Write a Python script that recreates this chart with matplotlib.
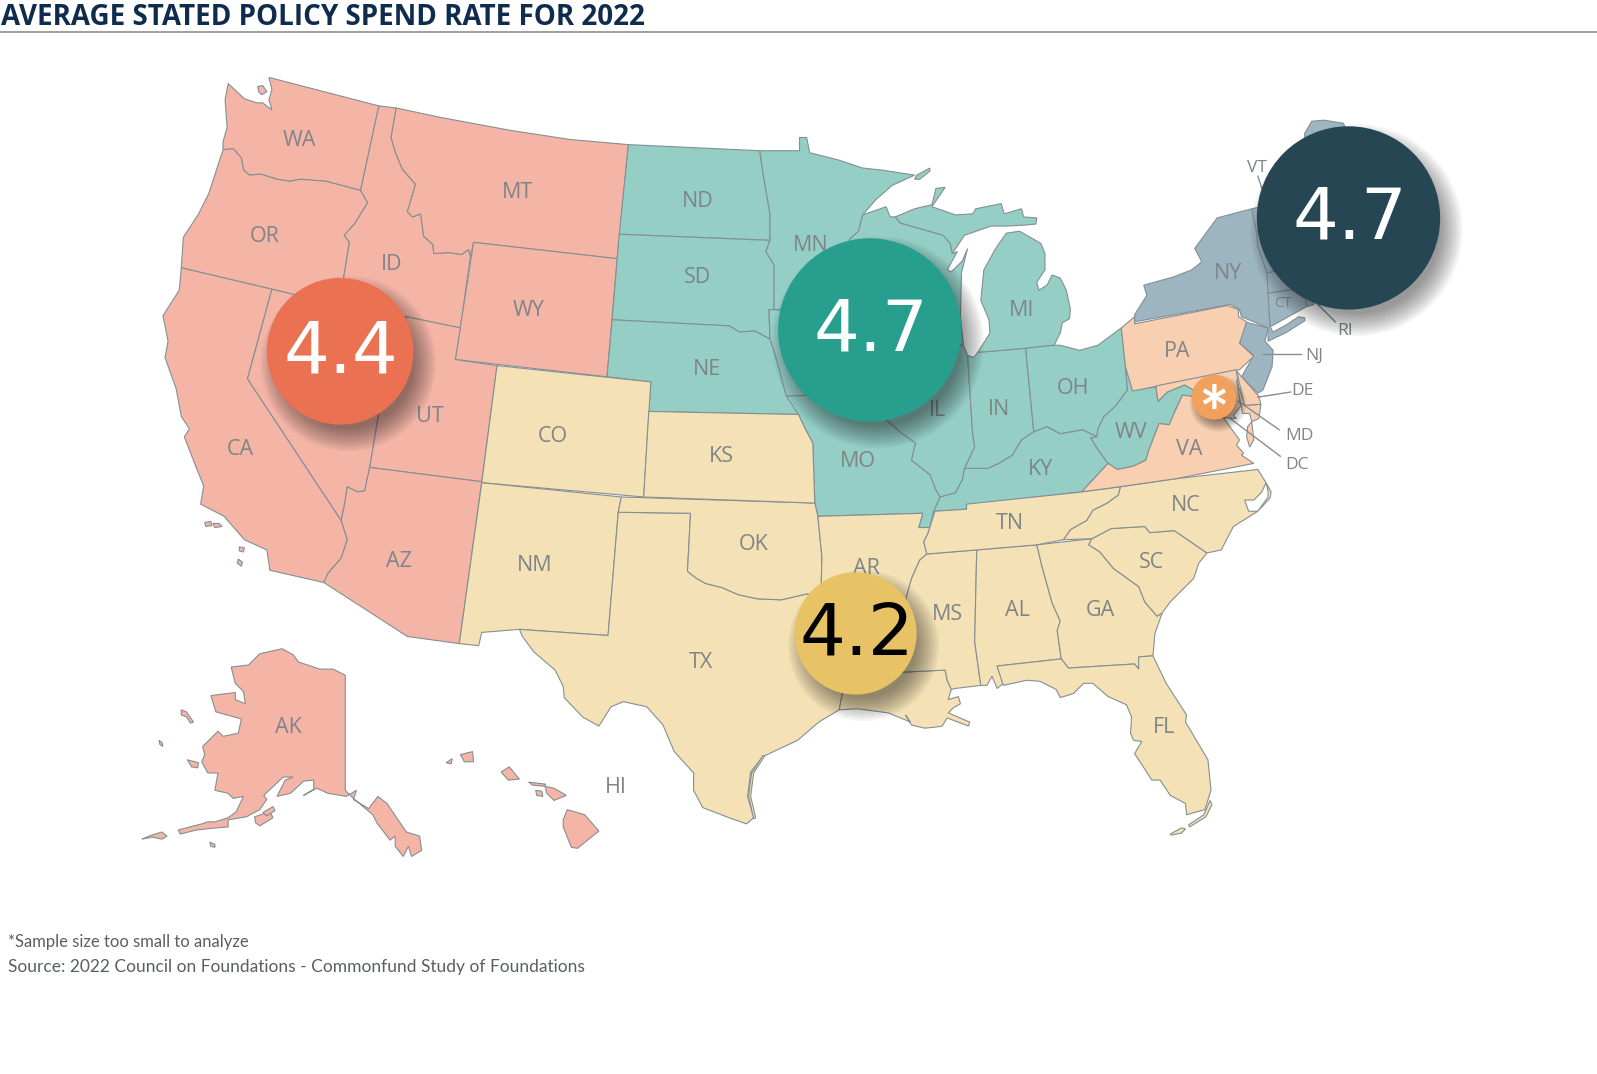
import matplotlib
matplotlib.use('Agg')
import matplotlib.pyplot as plt
from matplotlib.patches import Circle

W, H = 1568, 1054.6

# state outlines
WA = [(264,76),(372,104),(354,187),(320,178),(295,176),(285,178),(272,176),(256,171),(245,172),(239,167),(237,155),(229,146),(219,147),(219,139),(223,125),(221,98),(224,82),(240,97),(252,101),(258,101),(267,108),(264,98),(267,88)]
WA_ISL = [(253,85),(258,84),(262,90),(257,93),(254,90)]
OR = [(219,147),(229,146),(237,155),(239,167),(245,172),(256,171),(272,176),(285,178),(295,176),(320,178),(354,187),(361,199),(348,220),(338,231),(343,238),(333,300),(267,284),(178,263),(180,233),(195,210),(205,190)]
CA = [(178,263),(267,284),(243,372),(335,511),(341,530),(335,548),(322,563),(318,572),(265,560),(262,540),(240,530),(220,507),(197,495),(200,477),(193,460),(181,429),(186,421),(178,409),(173,382),(162,351),(165,335),(160,310),(176,285)]
CA_ISL1 = [(201,513),(207,512),(208,516),(202,517)]
CA_ISL2 = [(209,514),(215,514),(218,517),(211,518)]
CA_ISL3 = [(235,537),(240,538),(239,542),(235,541)]
CA_ISL4 = [(234,549),(238,552),(237,556),(233,553)]
NV = [(267,284),(333,300),(399,311),(372,405),(363,459),(358,482),(351,483),(341,478),(338,497),(335,511),(243,372)]
ID = [(372,104),(389,106),(384,135),(388,149),(395,166),(408,181),(400,208),(405,213),(413,210),(416,232),(425,240),(426,249),(441,248),(453,250),(460,245),(462,251),(452,322),(399,311),(333,300),(343,238),(338,231),(348,220),(361,199),(354,187)]
MT = [(389,106),(431,115),(501,128),(560,137),(617,142),(606,254),(465,238),(462,251),(460,245),(453,250),(441,248),(426,249),(425,240),(416,232),(413,210),(405,213),(400,208),(408,181),(395,166),(388,149),(384,135)]
WY = [(465,238),(606,254),(596,370),(447,353)]
UT = [(399,311),(452,322),(447,353),(488,359),(473,473),(363,459),(372,405)]
AZ = [(363,459),(473,473),(451,632),(400,625),(318,572),(322,563),(335,548),(341,530),(335,511),(338,497),(341,478),(351,483),(358,482)]
CO = [(488,359),(639,375),(632,488),(473,474)]
NM = [(473,474),(610,488),(607,503),(597,624),(510,618),(473,621),(470,634),(451,632)]
TX = [(607,503),(678,504),(675,561),(684,568),(693,573),(709,577),(725,584),(744,588),(767,589),(793,583),(806,588),(826,605),(829,660),(827,681),(824,697),(804,709),(783,727),(749,743),(737,758),(734,782),(740,803),(733,809),(716,803),(690,793),(681,776),(681,759),(662,738),(651,712),(635,694),(612,689),(600,694),(588,713),(572,704),(554,685),(553,674),(545,658),(524,640),(513,625),(510,618),(597,624)]
TX_PADRE = [(751,742),(740,759),(737,782),(742,803),(740,804),(735,782),(738,759),(749,742)]
OK = [(610,488),(800,494),(803,507),(807,547),(806,588),(793,583),(767,589),(744,588),(725,584),(709,577),(693,573),(684,568),(675,561),(678,504),(607,503)]
KS = [(637,404),(784,407),(790,420),(798,435),(800,494),(632,488)]
NE = [(601,314),(716,320),(726,326),(741,325),(756,333),(761,348),(771,379),(784,407),(637,404),(639,375),(596,370)]
SD = [(608,230),(756,236),(752,247),(760,260),(760,304),(755,304),(756,333),(741,325),(726,326),(716,320),(601,314)]
ND = [(617,142),(746,148),(749,169),(756,210),(756,236),(608,230)]
MN = [(746,148),(785,148),(785,135),(792,135),(795,150),(823,157),(847,165),(866,167),(898,172),(876,182),(860,196),(847,211),(843,227),(834,235),(840,260),(855,290),(858,308),(760,304),(760,260),(752,247),(756,236),(756,210),(749,169)]
MI_ROYALE = [(898,176),(900,172),(913,165),(913,168),(903,176)]
IA = [(755,304),(858,308),(875,340),(860,375),(850,386),(772,389),(761,348),(756,333)]
MO = [(772,389),(850,386),(860,395),(870,412),(885,425),(899,435),(895,452),(913,466),(919,481),(923,488),(916,504),(913,518),(902,518),(906,504),(803,507),(800,494),(798,435),(790,420),(784,407)]
WI = [(847,211),(870,203),(874,213),(879,213),(884,219),(926,231),(933,239),(935,249),(940,247),(930,265),(934,267),(945,256),(950,244),(944,268),(943,311),(946,339),(875,340),(858,308),(855,290),(840,260),(834,235),(843,227)]
IL = [(875,340),(946,339),(950,349),(955,426),(957,439),(947,460),(945,471),(938,484),(923,488),(919,481),(913,466),(895,452),(899,435),(885,425),(870,412),(860,395),(860,375)]
IN = [(950,349),(956,351),(960,346),(1007,342),(1015,424),(1003,432),(994,447),(981,455),(970,460),(949,460),(947,460),(957,439),(955,426)]
MI_UP = [(879,213),(898,205),(915,201),(919,185),(928,184),(915,203),(938,211),(955,210),(958,205),(983,200),(986,210),(1003,205),(1005,213),(1018,214),(1017,220),(1007,221),(988,222),(973,222),(947,231),(935,249),(933,239),(926,231),(884,219)]
MI_LP = [(960,346),(972,327),(971,314),(963,295),(966,265),(977,245),(981,239),(988,229),(1001,227),(1022,239),(1026,249),(1026,265),(1018,277),(1020,285),(1028,280),(1033,270),(1041,273),(1047,285),(1051,304),(1050,313),(1043,317),(1041,327),(1035,339),(1007,342)]
OH = [(1007,342),(1035,339),(1041,339),(1060,344),(1078,339),(1101,322),(1105,360),(1107,383),(1095,399),(1084,409),(1078,421),(1077,429),(1063,422),(1041,426),(1028,419),(1015,424)]
KY = [(947,460),(949,460),(970,460),(981,455),(994,447),(1003,432),(1015,424),(1028,419),(1041,426),(1063,422),(1077,429),(1071,430),(1077,440),(1088,455),(1062,483),(1052,484),(949,496),(949,500),(919,502),(916,504),(923,488),(938,484),(945,471)]
WV = [(1105,360),(1112,383),(1135,380),(1137,394),(1146,385),(1163,378),(1172,383),(1176,390),(1161,388),(1154,403),(1148,417),(1138,416),(1128,442),(1125,452),(1112,458),(1097,461),(1088,455),(1077,440),(1071,430),(1077,429),(1078,421),(1084,409),(1095,399),(1107,383)]
VA = [(1062,483),(1088,455),(1097,461),(1112,458),(1125,452),(1128,442),(1138,416),(1148,417),(1154,403),(1161,388),(1176,390),(1201,410),(1217,432),(1214,437),(1221,445),(1219,447),(1231,455),(1155,470),(1099,478)]
VA_ES = [(1229,414),(1231,432),(1227,439),(1224,429),(1225,419)]
PA = [(1101,322),(1114,311),(1114,318),(1205,300),(1216,304),(1216,311),(1224,316),(1217,337),(1231,350),(1217,363),(1112,384),(1105,360)]
NY = [(1114,316),(1114,309),(1126,290),(1123,280),(1152,272),(1170,265),(1180,257),(1173,244),(1195,214),(1229,205),(1234,229),(1235,242),(1244,268),(1245,288),(1247,321),(1250,326),(1263,319),(1275,311),(1281,312),(1281,315),(1262,327),(1245,335),(1245,322),(1219,311),(1217,304),(1208,299)]
NJ = [(1222,316),(1219,330),(1217,337),(1231,349),(1219,370),(1235,386),(1240,383),(1249,360),(1250,344),(1242,335),(1245,322)]
VT = [(1229,205),(1265,197),(1262,230),(1260,265),(1244,268),(1235,242),(1234,229)]
NH = [(1265,197),(1278,190),(1290,240),(1300,255),(1280,262),(1260,265),(1262,230)]
MA = [(1244,268),(1260,265),(1280,262),(1300,258),(1315,275),(1340,270),(1320,290),(1290,280),(1245,288)]
CT = [(1245,288),(1280,283),(1283,301),(1247,321)]
RI = [(1280,283),(1291,281),(1290,299),(1283,301)]
ME = [(1278,190),(1281,131),(1288,119),(1300,118),(1319,121),(1330,150),(1345,170),(1375,190),(1340,215),(1300,255),(1290,240)]
MD = [(1135,379),(1214,363),(1218,399),(1211,408),(1214,411),(1201,410),(1176,390),(1172,383),(1163,378),(1146,385),(1137,394)]
MD_ES = [(1214,373),(1222,398),(1238,397),(1236,411),(1229,414),(1227,406),(1220,406)]
DE = [(1214,364),(1219,370),(1228,380),(1236,389),(1238,397),(1222,398)]
TN = [(918,502),(949,500),(949,495),(1054,484),(1100,478),(1098,486),(1087,494),(1073,501),(1067,511),(1051,520),(1044,530),(1018,535),(959,540),(910,544),(907,532),(911,524)]
NC = [(1100,478),(1155,470),(1235,461),(1243,474),(1239,483),(1231,491),(1222,491),(1226,502),(1235,502),(1211,517),(1199,540),(1185,543),(1153,521),(1129,523),(1124,517),(1091,519),(1072,529),(1044,530),(1051,520),(1067,511),(1073,501),(1087,494),(1098,486)]
NC_BANKS = [(1243,474),(1248,483),(1247,489),(1235,502),(1245,488),(1245,482)]
SC = [(1072,529),(1091,519),(1124,517),(1129,523),(1153,521),(1185,543),(1177,553),(1172,568),(1149,591),(1141,602),(1136,605),(1124,591),(1118,576),(1093,558),(1080,542),(1069,535)]
GA = [(1018,535),(1072,529),(1069,535),(1080,542),(1093,558),(1118,576),(1124,591),(1136,605),(1141,602),(1134,622),(1132,644),(1118,645),(1118,657),(1114,652),(1049,656),(1042,647),(1038,619),(1041,610),(1033,592),(1023,556)]
AL = [(959,540),(1018,535),(1023,556),(1033,592),(1041,610),(1038,619),(1042,647),(979,654),(985,671),(979,676),(974,664),(969,673),(963,673),(957,630)]
MS = [(910,544),(959,540),(957,630),(963,673),(938,676),(934,677),(930,668),(928,658),(886,660),(885,620),(890,586),(895,568),(903,550)]
AR = [(803,507),(906,504),(902,518),(913,518),(911,524),(907,532),(910,544),(903,550),(895,568),(890,586),(885,620),(886,660),(829,660),(826,605),(806,588),(807,547)]
LA = [(829,660),(886,660),(928,658),(930,668),(934,677),(931,687),(941,684),(943,691),(936,695),(931,700),(952,709),(951,713),(930,705),(925,713),(918,714),(908,715),(895,712),(889,702),(894,709),(872,700),(842,696),(824,697),(827,681)]
FL = [(979,654),(1042,647),(1049,656),(1114,652),(1118,657),(1118,645),(1132,644),(1145,671),(1165,702),(1164,709),(1186,746),(1189,776),(1183,795),(1165,800),(1164,789),(1149,781),(1139,766),(1131,766),(1114,740),(1121,728),(1113,727),(1110,720),(1111,704),(1106,692),(1088,684),(1073,671),(1064,671),(1054,681),(1041,685),(1037,677),(1021,669),(1008,668),(985,673)]
FL_KEY1 = [(1188,786),(1190,790),(1184,802),(1168,812),(1167,810),(1182,800)]
FL_KEY2 = [(1149,819),(1160,813),(1164,814),(1160,818),(1150,820)]
AK = [(339,663),(327,657),(314,657),(293,650),(288,643),(277,637),(255,642),(244,653),(227,655),(231,671),(239,679),(241,691),(231,687),(231,680),(207,683),(212,699),(237,706),(234,720),(219,723),(214,718),(199,733),(201,741),(198,748),(204,759),(214,759),(211,776),(224,779),(229,784),(239,782),(232,797),(224,803),(211,807),(204,807),(198,809),(175,815),(177,819),(193,815),(211,813),(224,812),(224,805),(242,802),(255,795),(262,785),(259,781),(278,763),(288,763),(280,766),(272,782),(285,779),(294,771),(298,767),(308,766),(308,775),(298,781),(311,774),(322,779),(340,782),(350,776),(347,785),(362,794),(371,782),(380,789),(399,817),(412,821),(414,835),(404,841),(401,831),(396,841),(388,831),(388,821),(383,825),(370,808),(366,800),(347,784),(339,776)]
AK_STL = [(178,697),(183,699),(190,709),(187,710),(183,704),(178,702)]
AK_NUN = [(184,746),(195,749),(194,754),(188,753)]
AK_KOD = [(250,802),(265,797),(268,803),(255,811),(251,808)]
AK_AFG = [(258,798),(268,792),(270,796),(262,801)]
AK_ALE = [(139,824),(149,820),(159,817),(164,821),(159,824),(150,822)]
AK_SM1 = [(156,727),(159,729),(160,733),(157,731)]
AK_SM2 = [(206,827),(211,829),(211,832),(207,831)]
HI_BIG = [(557,795),(574,800),(588,816),(567,833),(561,832),(553,812),(553,805)]
HI_MAUI = [(535,772),(544,774),(556,781),(544,786),(537,779)]
HI_MOL = [(519,768),(536,770),(534,772),(523,771)]
HI_LAN = [(526,776),(532,777),(533,782),(527,781)]
HI_OAH = [(492,758),(500,753),(510,765),(499,766)]
HI_KAU = [(452,741),(464,738),(465,748),(456,748)]
HI_NII = [(438,749),(444,745),(443,750)]

# regions and their stated rates
west = [WA, WA_ISL, OR, CA, CA_ISL1, CA_ISL2, CA_ISL3, CA_ISL4, NV, ID, MT, WY, UT, AZ, AK, AK_STL, AK_NUN, AK_KOD, AK_AFG, AK_ALE, AK_SM1, AK_SM2,
        HI_BIG, HI_MAUI, HI_MOL, HI_LAN, HI_OAH, HI_KAU, HI_NII]
midwest = [ND, SD, NE, MN, MI_ROYALE, IA, MO, WI, IL, IN, MI_UP, MI_LP, OH, KY, WV]
south = [CO, NM, TX, TX_PADRE, OK, KS, AR, LA, MS, AL, GA, FL, FL_KEY1, FL_KEY2, SC, NC, NC_BANKS, TN]
northeast = [NY, NJ, VT, NH, MA, CT, RI, ME]
small_sample = [PA, VA, VA_ES, MD, MD_ES, DE]

region_shapes = [west, midwest, south, northeast, small_sample]
region_colors = ['#F4B5A7', '#94CEC5', '#F4E1B5', '#9DB5C1', '#F8CFB0']

bubble_labels = ['4.4', '4.7', '4.2', '4.7', '*']
bubble_x = [334, 854, 840, 1324, 1192]
bubble_y = [345, 324, 622, 214, 390]
bubble_r = [72, 90, 60, 90, 22]
bubble_colors = ['#EA7152', '#289F8E', '#E7C366', '#274654', '#F2A05D']
bubble_text = ['white', 'white', 'black', 'white', 'white']

state_names = ['WA','OR','CA','ID','MT','WY','UT','AZ','NM','CO','KS','OK','TX','AR','MS','AL','GA','FL','SC','NC','TN','KY','VA','WV','OH','IN','IL','MI','MO','NE','SD','ND','MN','NY','PA','HI','AK','CT']
state_x = [294,260,236,385,508,519,422,392,525,543,708,740,688,851,930,999,1080,1143,1131,1164,991,1022,1168,1111,1054,981,920,1003,842,694,685,685,796,1206,1156,605,283,1260]
state_y = [135,230,439,257,187,302,406,549,553,426,446,532,648,556,601,597,597,712,550,494,512,459,439,422,379,400,401,302,451,360,270,195,239,266,343,771,712,296]

leader_names = ['VT','RI','NJ','DE','MD','DC']
leader_text_x = [1234,1321,1290,1279,1276,1273]
leader_text_y = [163,323,347,382,426,455]
leader_start = [(1235,173),(1294,299),(1240,348),(1235,390),(1216,394),(1208,411)]
leader_end = [(1239,185),(1311,316),(1277,348),(1267,385),(1256,422),(1257,448)]

EDGE = '#858F92'
LABEL = '#7F8587'

fig = plt.figure(figsize=(15.97, 10.74), dpi=100)
ax = fig.add_axes([0, 0, 1, 1])
ax.set_xlim(0, W)
ax.set_ylim(H, 0)
ax.axis('off')

for shapes, color in zip(region_shapes, region_colors):
    for shape in shapes:
        xs, ys = zip(*shape)
        ax.fill(xs, ys, facecolor=color, edgecolor=EDGE, linewidth=0.8, zorder=2)

for a, b in zip(leader_start, leader_end):
    ax.plot([a[0], b[0]], [a[1], b[1]], color=EDGE, lw=1.0, zorder=3)

for name, x, y in zip(state_names, state_x, state_y):
    size = 11 if name == 'CT' else 15.5
    ax.text(x, y + 2.5, name, fontsize=size, color=LABEL, family='Open Sans', ha='center', va='center', zorder=4)
for name, x, y in zip(leader_names, leader_text_x, leader_text_y):
    ax.text(x, y + 2, name, fontsize=12.5, color=LABEL, family='Open Sans', ha='center', va='center', zorder=4)

# soft drop shadow, then the bubble
for label, x, y, r, color, tc in zip(bubble_labels, bubble_x, bubble_y, bubble_r, bubble_colors, bubble_text):
    big = r > 30
    off_x, off_y = (8, 12) if big else (4, 6)
    steps = 12
    for i in range(steps):
        grow = (steps - i) * 2 - 10 if big else (steps - i) - 6
        ax.add_patch(Circle((x + off_x, y + off_y), r + grow, facecolor='black', edgecolor='none', alpha=0.04, zorder=5))
    ax.add_patch(Circle((x, y), r, facecolor=color, edgecolor='none', zorder=6))
    if label == '*':
        ax.text(x, y + 22, label, fontsize=52, fontweight='bold', color=tc, family='Lato', ha='center', va='center', zorder=7)
    else:
        ax.text(x + 1, y - 6, label, fontsize=52, color=tc, family='DejaVu Sans', ha='center', va='center_baseline', zorder=7)

ax.plot([0, W], [31.5, 31.5], color='#858585', lw=1.1, zorder=1)
ax.text(1, 25, 'AVERAGE STATED POLICY SPEND RATE FOR 2022', fontsize=20, fontweight='bold', color='#0F2C4E',
        family='Open Sans', ha='left', va='baseline')
ax.text(8, 930, '*Sample size too small to analyze', fontsize=12, color='#5A5F62', family='Lato', ha='left', va='baseline')
ax.text(8, 954, 'Source: 2022 Council on Foundations - Commonfund Study of Foundations', fontsize=12.5, color='#5A5F62', family='Lato', ha='left', va='baseline')

fig.savefig('out.png', dpi=100, facecolor='white')
